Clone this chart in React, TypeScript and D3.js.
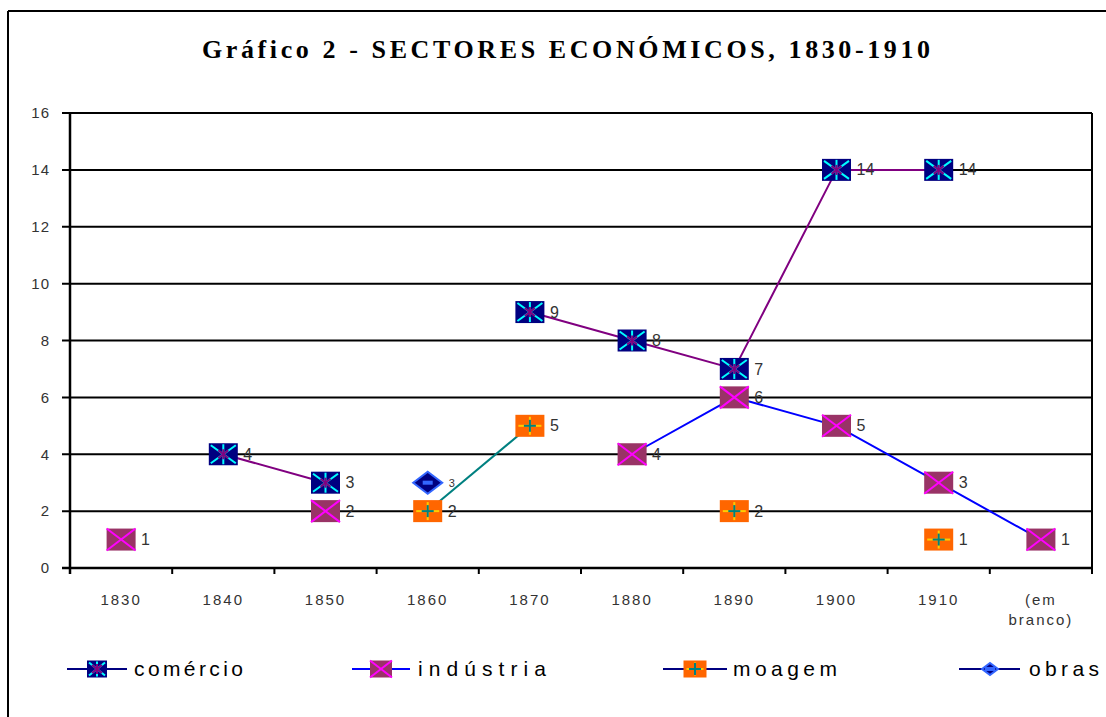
import React from "react";
import * as d3 from "d3";

const categories = ["1830", "1840", "1850", "1860", "1870", "1880", "1890", "1900", "1910", "(em branco)"];
const comercio: (number | null)[] = [null, 4, 3, null, 9, 8, 7, 14, 14, null];
const industria: (number | null)[] = [1, null, 2, null, null, 4, 6, 5, 3, 1];
const moagem: (number | null)[] = [null, null, null, 2, 5, null, 2, null, 1, null];
const obras: (number | null)[] = [null, null, null, 3, null, null, null, null, null, null];
const yTicks = [0, 2, 4, 6, 8, 10, 12, 14, 16];
const titleText = "Gráfico 2 - SECTORES ECONÓMICOS, 1830-1910";
const seriesNames = ["comércio", "indústria", "moagem", "obras"];

const W = 1106, H = 717;
const x = d3.scaleBand<string>().domain(categories).range([70, 1092]);
const y = d3.scaleLinear().domain([0, 16]).range([568, 113]);
const cx = (c: string) => (x(c) as number) + x.bandwidth() / 2;

const lineGen = d3
  .line<{ c: string; v: number | null }>()
  .defined((d) => d.v !== null)
  .x((d) => cx(d.c))
  .y((d) => y(d.v as number));

const pts = (arr: (number | null)[]) => categories.map((c, i) => ({ c, v: arr[i] }));

function MarkCom({ px, py, w = 29, h = 22 }: { px: number; py: number; w?: number; h?: number }) {
  const hw = w / 2, hh = h / 2;
  return (
    <g>
      <rect x={px - hw} y={py - hh} width={w} height={h} fill="#000080" />
      <line x1={px - hw + 2} y1={py - hh + 2} x2={px + hw - 2} y2={py + hh - 2} stroke="#00FFFF" strokeWidth={2} />
      <line x1={px - hw + 2} y1={py + hh - 2} x2={px + hw - 2} y2={py - hh + 2} stroke="#00FFFF" strokeWidth={2} />
      <line x1={px} y1={py - hh + 1} x2={px} y2={py + hh - 1} stroke="#00FFFF" strokeWidth={2} />
      <line x1={px - 5} y1={py - 4} x2={px + 5} y2={py + 4} stroke="#800080" strokeWidth={2} />
      <line x1={px - 5} y1={py + 4} x2={px + 5} y2={py - 4} stroke="#800080" strokeWidth={2} />
      <line x1={px} y1={py - 5} x2={px} y2={py + 5} stroke="#800080" strokeWidth={2} />
    </g>
  );
}

function MarkInd({ px, py, w = 29, h = 22 }: { px: number; py: number; w?: number; h?: number }) {
  const hw = w / 2, hh = h / 2;
  return (
    <g>
      <rect x={px - hw} y={py - hh} width={w} height={h} fill="#993366" />
      <line x1={px - hw} y1={py - hh} x2={px + hw} y2={py + hh} stroke="#FF00FF" strokeWidth={2} />
      <line x1={px - hw} y1={py + hh} x2={px + hw} y2={py - hh} stroke="#FF00FF" strokeWidth={2} />
    </g>
  );
}

function MarkMoa({ px, py, w = 29, h = 22 }: { px: number; py: number; w?: number; h?: number }) {
  const hw = w / 2, hh = h / 2;
  return (
    <g>
      <rect x={px - hw} y={py - hh} width={w} height={h} fill="#FF6600" />
      <line x1={px - hw + 3} y1={py} x2={px + hw - 3} y2={py} stroke="#FFCC00" strokeWidth={2} />
      <line x1={px} y1={py - hh + 2} x2={px} y2={py + hh - 2} stroke="#FFCC00" strokeWidth={2} />
      <line x1={px - 6} y1={py} x2={px + 6} y2={py} stroke="#008080" strokeWidth={2} />
      <line x1={px} y1={py - 6} x2={px} y2={py + 6} stroke="#008080" strokeWidth={2} />
    </g>
  );
}

function MarkObr({ px, py, w = 29, h = 22 }: { px: number; py: number; w?: number; h?: number }) {
  const hw = w / 2, hh = h / 2;
  return (
    <g>
      <path d={`M${px - hw},${py} L${px},${py - hh} L${px + hw},${py} L${px},${py + hh} Z`} fill="#000080" stroke="#3366FF" strokeWidth={2} />
      <rect x={px - 5} y={py - 2} width={10} height={4} fill="#3366FF" />
    </g>
  );
}

const markers = [MarkCom, MarkInd, MarkMoa, MarkObr];
const lineColors = ["#800080", "#0000FF", "#008080", "#000080"];
const legendLineColors = ["#000080", "#0000FF", "#000080", "#000080"];
const allSeries = [comercio, industria, moagem, obras];

const legendItems = [
  { x1: 67, x2: 127, mx: 97, tx: 134, tw: 109, mw: 20, mh: 17 },
  { x1: 352, x2: 410, mx: 381, tx: 418, tw: 128, mw: 22, mh: 17 },
  { x1: 663, x2: 727, mx: 695, tx: 733, tw: 104, mw: 23, mh: 17 },
  { x1: 959, x2: 1020, mx: 990, tx: 1029, tw: 70, mw: 16, mh: 12 },
];

export default function App() {
  const sans = "'Liberation Sans', Arial, sans-serif";
  return (
    <svg width={W} height={H} style={{ position: "absolute", left: 0, top: 0, background: "#fff" }}>
      <rect x={0} y={0} width={W} height={H} fill="#fff" />
      {/* frame */}
      <line x1={8} y1={11} x2={W + 5} y2={11} stroke="#000" strokeWidth={2} />
      <line x1={8} y1={11} x2={8} y2={H + 5} stroke="#000" strokeWidth={2} />

      <text
        x={202}
        y={58}
        textLength={728}
        lengthAdjust="spacing"
        fontFamily="'Liberation Serif', 'Times New Roman', serif"
        fontWeight="bold"
        fontSize={26}
        fill="#000"
      >
        {titleText}
      </text>

      {/* gridlines & y axis */}
      {yTicks.map((t) => (
        <g key={t}>
          <line x1={62} x2={1092} y1={y(t)} y2={y(t)} stroke="#000" strokeWidth={t === 0 ? 2.5 : 2} />
          <text x={50} y={y(t)} dy="0.35em" textAnchor="end" fontFamily={sans} fontSize={15} fill="#333" letterSpacing={1}>
            {t}
          </text>
        </g>
      ))}
      <line x1={70} x2={70} y1={y(16)} y2={y(0) + 6} stroke="#000" strokeWidth={2.5} />
      <line x1={1092} x2={1092} y1={y(16)} y2={y(0) + 6} stroke="#000" strokeWidth={2} />
      {categories.map((c) => (
        <line key={"t" + c} x1={x(c) as number} x2={x(c) as number} y1={y(0)} y2={y(0) + 6} stroke="#000" strokeWidth={2} />
      ))}
      {categories.map((c) =>
        c === "(em branco)" ? (
          <g key={"l" + c}>
            <text x={cx(c)} y={600} dy="0.35em" textAnchor="middle" fontFamily={sans} fontSize={15} fill="#333" letterSpacing={2}>
              (em
            </text>
            <text x={cx(c)} y={620} dy="0.35em" textAnchor="middle" fontFamily={sans} fontSize={15} fill="#333" letterSpacing={2}>
              branco)
            </text>
          </g>
        ) : (
          <text key={"l" + c} x={cx(c)} y={600} dy="0.35em" textAnchor="middle" fontFamily={sans} fontSize={15} fill="#333" letterSpacing={2}>
            {c}
          </text>
        )
      )}

      {/* lines */}
      {allSeries.map((s, i) => (
        <path key={"p" + i} d={lineGen(pts(s)) || ""} fill="none" stroke={lineColors[i]} strokeWidth={2} />
      ))}

      {/* markers and labels */}
      {allSeries.map((s, i) =>
        pts(s)
          .filter((d) => d.v !== null)
          .map((d) => {
            const M = markers[i];
            const px = cx(d.c), py = y(d.v as number);
            return (
              <g key={"m" + i + d.c}>
                <M px={px} py={py} />
                <text
                  x={px + (i === 3 ? 21 : 20)}
                  y={py}
                  dy="0.35em"
                  fontFamily={sans}
                  fontSize={i === 3 ? 11 : 16}
                  fill="#333"
                >
                  {d.v}
                </text>
              </g>
            );
          })
      )}

      {/* legend */}
      {legendItems.map((L, i) => {
        const M = markers[i];
        return (
          <g key={"lg" + i}>
            <line x1={L.x1} x2={L.x2} y1={669} y2={669} stroke={legendLineColors[i]} strokeWidth={2} />
            <M px={L.mx} py={669} w={L.mw} h={L.mh} />
            <text
              x={L.tx}
              y={669}
              dy="0.35em"
              textLength={L.tw}
              lengthAdjust="spacing"
              fontFamily={sans}
              fontSize={21}
              fill="#000"
            >
              {seriesNames[i]}
            </text>
          </g>
        );
      })}
    </svg>
  );
}
